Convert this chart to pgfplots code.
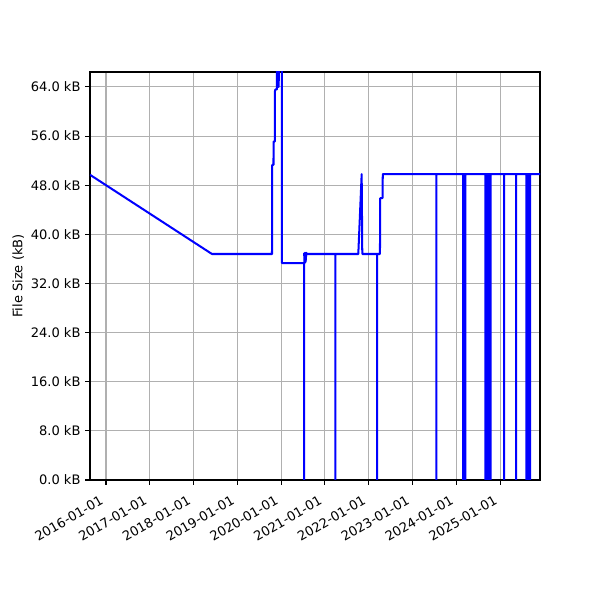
\documentclass[border=0pt]{standalone}
\usepackage{fontspec}
\setmainfont{DejaVu Sans}
\usepackage{pgfplots}
\pgfplotsset{compat=1.18}
\definecolor{gridgray}{RGB}{176,176,176}
\begin{document}
\begin{tikzpicture}
\begin{axis}[
    scale only axis,
    width=324pt, height=293.76pt,
    xmin=2015.635, xmax=2025.913,
    ymin=0, ymax=66.44,
    xtick={2016,2017,2018,2019,2020,2021,2022,2023,2024,2025},
    xticklabels={2016-01-01,2017-01-01,2018-01-01,2019-01-01,2020-01-01,2021-01-01,2022-01-01,2023-01-01,2024-01-01,2025-01-01},
    xticklabel style={xshift=-4.5pt, yshift=-6pt, rotate=30, anchor=north east, inner sep=1pt},
    ytick={0,8,16,24,32,40,48,56,64},
    yticklabels={0.0 kB,8.0 kB,16.0 kB,24.0 kB,32.0 kB,40.0 kB,48.0 kB,56.0 kB,64.0 kB},
    ylabel={File Size (kB)},
    ylabel style={yshift=-2pt},
    tick align=outside,
    tick pos=left,
    major tick length=3.3pt,
    tick style={black, line width=0.75pt},
    axis line style={black, line width=0.75pt},
    grid=major,
    grid style={gridgray, line width=0.75pt},
    ticklabel style={font=\fontsize{9.4}{11}\selectfont},
    label style={font=\fontsize{9.4}{11}\selectfont},
    unbounded coords=jump,
    /pgf/number format/assume math mode=true,
]
% drops to zero are split with nan so each vertical is a plain segment
\addplot[blue, line width=1.45pt, line join=round] coordinates {
    (2015.635,49.7) (2018.421,36.8) (2019.792,36.8)
    (2019.793,51.3) (2019.826,51.3) (2019.827,55.1) (2019.855,55.1)
    (2019.856,63.2) (2019.870,63.6) (2019.905,63.6) (2019.906,72)
    (2019.940,72) (2019.945,64) (2019.952,72) (2020.018,72)
    (2020.020,35.3) (2020.523,35.3) (2020.524,0) (2020.524,nan)
    (2020.526,37) (2020.535,35.3) (2020.545,37) (2020.560,35.5) (2020.575,37) (2020.585,36.8)
    (2021.241,36.8) (2021.241,0) (2021.241,nan) (2021.241,36.8)
    (2021.763,36.8) (2021.840,49.8) (2021.854,36.8)
    (2022.191,36.8) (2022.191,0) (2022.191,nan) (2022.191,36.8)
    (2022.258,36.8) (2022.262,45.9) (2022.318,45.9) (2022.322,49.8)
    (2023.545,49.8) (2023.545,0) (2023.545,nan) (2023.545,49.8)
    (2024.159,49.8) (2024.159,0) (2024.159,nan) (2024.159,49.8)
    (2024.210,49.8) (2024.210,0) (2024.210,nan) (2024.210,49.8)
    (2024.665,49.8) (2024.665,0) (2024.665,nan) (2024.665,49.8)
    (2024.703,49.8) (2024.703,0) (2024.703,nan) (2024.703,49.8)
    (2024.742,49.8) (2024.742,0) (2024.742,nan) (2024.742,49.8)
    (2024.783,49.8) (2024.783,0) (2024.783,nan) (2024.783,49.8)
    (2025.096,49.8) (2025.096,0) (2025.096,nan) (2025.096,49.8)
    (2025.367,49.8) (2025.367,0) (2025.367,nan) (2025.367,49.8)
    (2025.600,49.8) (2025.600,0) (2025.600,nan) (2025.600,49.8)
    (2025.639,49.8) (2025.639,0) (2025.639,nan) (2025.639,49.8)
    (2025.685,49.8) (2025.685,0) (2025.685,nan) (2025.685,49.8)
    (2025.913,49.8)
};
\coordinate (sw) at (rel axis cs:0,0);
\coordinate (ne) at (rel axis cs:1,1);
\end{axis}
\path[use as bounding box] ([xshift=-64.8pt,yshift=-86.4pt]sw) rectangle ([xshift=43.2pt,yshift=51.84pt]ne);
\end{tikzpicture}
\end{document}
